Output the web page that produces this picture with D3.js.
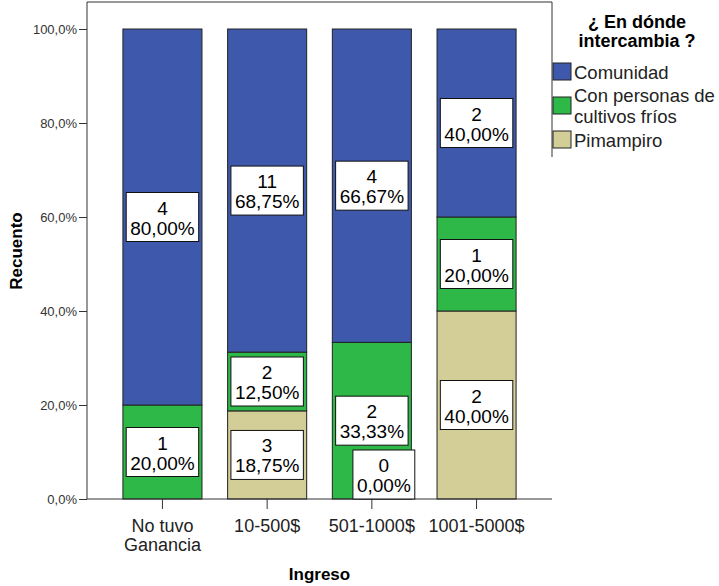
<!DOCTYPE html>
<html>
<head>
	<meta charset="utf-8">
	<title>Ingreso - intercambio</title>
	<script src="https://d3js.org/d3.v7.min.js"></script>
	<style>
		body { margin: 0; background: #fff; }
		text { font-family: 'Liberation Sans', Arial, sans-serif; }
	</style>
</head>
<body>
	<div class="chart"></div>

	<script type="text/javascript">
		// datos
		const categories = ['No tuvo Ganancia', '10-500$', '501-1000$', '1001-5000$']
		const categoryLines = [['No tuvo', 'Ganancia'], ['10-500$'], ['501-1000$'], ['1001-5000$']]
		const seriesNames = ['Comunidad', 'Con personas de cultivos fríos', 'Pimampiro']
		const seriesLines = [['Comunidad'], ['Con personas de', 'cultivos fríos'], ['Pimampiro']]
		const comunidad = [4, 11, 4, 2]
		const conPersonas = [1, 2, 2, 1]
		const pimampiro = [null, 3, 0, 2] // null = sin etiqueta
		const yTicks = [0, 0.2, 0.4, 0.6, 0.8, 1]

		const colors = ['#3e58ac', '#2eb848', '#d3ce97']

		const width = 719
		const height = 586
		const plot = { left: 87, right: 552, top: 2, bottom: 499 }

		const locale = d3.formatLocale({ decimal: ',', thousands: '.', grouping: [3], currency: ['', '$'] })
		const pct1 = locale.format('.1%')
		const pct2 = locale.format('.2%')

		const svg = d3.select('.chart').append('svg')
			.attr('width', width)
			.attr('height', height)

		const table = categories.map((c, i) => ({
			cat: c,
			[seriesNames[0]]: comunidad[i],
			[seriesNames[1]]: conPersonas[i],
			[seriesNames[2]]: pimampiro[i]
		}))

		// apilado de abajo hacia arriba: Pimampiro, Con personas, Comunidad
		const stackKeys = [seriesNames[2], seriesNames[1], seriesNames[0]]
		const stacked = d3.stack()
			.keys(stackKeys)
			.value((d, k) => d[k] || 0)
			.offset(d3.stackOffsetExpand)(table)

		const color = d3.scaleOrdinal().domain(seriesNames).range(colors)

		const xScale = d3.scaleBand()
			.domain(categories)
			.range([plot.left, plot.right])
			.paddingInner(0.245)
			.paddingOuter(0.343)

		const yScale = d3.scaleLinear()
			.domain([0, 1])
			.range([plot.bottom, 29])

		// marco
		svg.append('path')
			.attr('d', `M${plot.left},${plot.bottom}V${plot.top}H${plot.right}V157`)
			.attr('fill', 'none')
			.attr('stroke', '#333')

		// barras
		const layers = svg.append('g')
			.selectAll('g')
			.data(stacked)
			.join('g')
			.attr('fill', d => color(d.key))

		layers.selectAll('rect')
			.data(d => d)
			.join('rect')
			.attr('x', d => xScale(d.data.cat))
			.attr('width', xScale.bandwidth())
			.attr('y', d => yScale(d[1]))
			.attr('height', d => yScale(d[0]) - yScale(d[1]))
			.attr('stroke', '#222')
			.attr('stroke-width', 1)

		// eje Y
		const yAxis = d3.axisLeft(yScale)
			.tickValues(yTicks)
			.tickSize(8)
			.tickPadding(2)
			.tickFormat(pct1)

		const gy = svg.append('g')
			.attr('transform', `translate(${plot.left},0)`)
			.call(yAxis)
		gy.select('.domain').remove()
		gy.selectAll('line').attr('stroke', '#333')
		gy.selectAll('text')
			.attr('font-size', 13)
			.attr('fill', '#333')
			.style('font-family', "'Liberation Sans', Arial, sans-serif")

		// eje X
		const xAxis = d3.axisBottom(xScale)
			.tickSize(10)
			.tickFormat('')

		const gx = svg.append('g')
			.attr('transform', `translate(0,${plot.bottom})`)
			.call(xAxis)
		gx.select('.domain').remove()
		gx.selectAll('line').attr('stroke', '#333')

		svg.append('line')
			.attr('x1', plot.left)
			.attr('x2', plot.right)
			.attr('y1', plot.bottom)
			.attr('y2', plot.bottom)
			.attr('stroke', '#333')

		const xLabels = svg.append('g')
			.selectAll('text')
			.data(categories)
			.join('text')
			.attr('text-anchor', 'middle')
			.attr('font-size', 18)
			.attr('fill', '#222')
			.attr('transform', d => `translate(${xScale(d) + xScale.bandwidth() / 2},${plot.bottom + 33})`)

		xLabels.selectAll('tspan')
			.data((d, i) => categoryLines[i])
			.join('tspan')
			.attr('x', 0)
			.attr('y', (d, j) => j * 19)
			.text(d => d)

		// títulos de ejes
		svg.append('text')
			.attr('x', (plot.left + plot.right) / 2)
			.attr('y', 580)
			.attr('text-anchor', 'middle')
			.attr('font-size', 17)
			.attr('font-weight', 'bold')
			.text('Ingreso')

		svg.append('text')
			.attr('transform', `translate(22,251) rotate(-90)`)
			.attr('text-anchor', 'middle')
			.attr('font-size', 17)
			.attr('font-weight', 'bold')
			.text('Recuento')

		// etiquetas de segmentos
		const labelGroup = svg.append('g')
		stacked.forEach(layer => {
			layer.forEach((d, i) => {
				const raw = d.data[layer.key]
				if (raw === null) return
				const total = comunidad[i] + conPersonas[i] + (pimampiro[i] || 0)
				const lines = [String(raw), pct2(raw / total)]

				const g = labelGroup.append('g')
				const rect = g.append('rect')
					.attr('fill', '#fff')
					.attr('stroke', '#111')
					.attr('stroke-width', 1)
				const t = g.append('text')
					.attr('text-anchor', 'middle')
					.attr('font-size', 19)
					.attr('fill', '#000')
				t.selectAll('tspan')
					.data(lines)
					.join('tspan')
					.attr('x', 0)
					.attr('y', (s, j) => 22 + j * 20)
					.text(s => s)

				const w = d3.max(t.selectAll('tspan').nodes(), n => n.getComputedTextLength()) + 8
				const h = 49
				const segTop = yScale(d[1])
				const segBottom = yScale(d[0])
				let cx = xScale(d.data.cat) + xScale.bandwidth() / 2
				let top = (segTop + segBottom) / 2 - h / 2
				// segmento demasiado pequeño: se desplaza
				if (segBottom - segTop < h) {
					cx += 12
					top = segBottom - h
				}
				rect.attr('x', -w / 2).attr('y', 0).attr('width', w).attr('height', h)
				g.attr('transform', `translate(${cx},${top})`)
			})
		})

		// leyenda
		const legend = svg.append('g')

		legend.append('text')
			.attr('text-anchor', 'middle')
			.attr('font-size', 18)
			.attr('font-weight', 'bold')
			.selectAll('tspan')
			.data(['¿ En dónde', 'intercambia ?'])
			.join('tspan')
			.attr('x', 637)
			.attr('y', (d, i) => 28 + i * 19)
			.text(d => d)

		const lineH = 21
		let cy = 71.5
		seriesNames.forEach((name, i) => {
			const lines = seriesLines[i]
			if (i > 0) cy += 8 * (seriesLines[i - 1].length + lines.length) + 10
			legend.append('rect')
				.attr('x', 553)
				.attr('y', cy - 8.5)
				.attr('width', 18)
				.attr('height', 17)
				.attr('fill', color(name))
				.attr('stroke', '#222')
			legend.append('text')
				.attr('font-size', 18.5)
				.attr('fill', '#222')
				.selectAll('tspan')
				.data(lines)
				.join('tspan')
				.attr('x', 574)
				.attr('y', (s, j) => cy + 7 + (j - (lines.length - 1) / 2) * lineH)
				.text(s => s)
		})
	</script>
</body>
</html>
